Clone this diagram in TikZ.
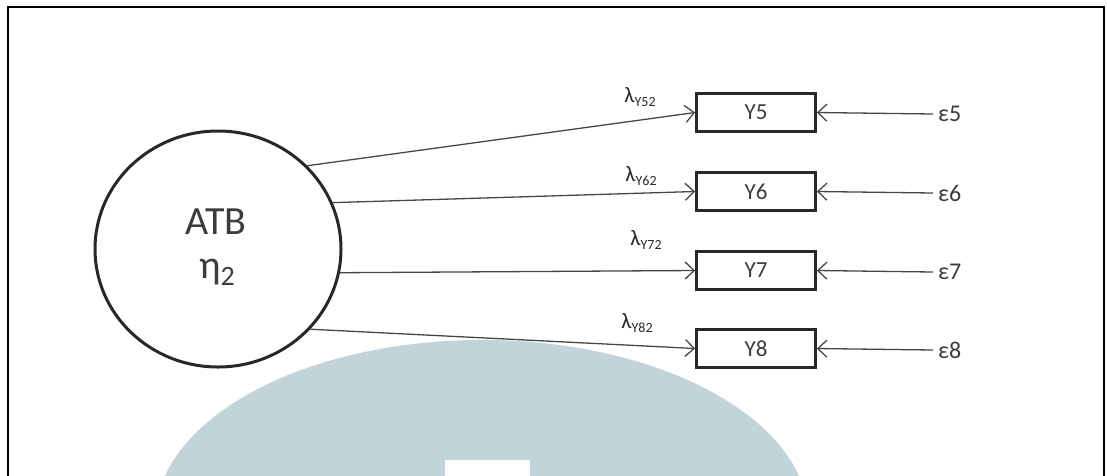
\documentclass[tikz,border=0pt]{standalone}
\usepackage{fontspec}
\setmainfont{Carlito}
\usetikzlibrary{arrows.meta,shapes.geometric}

\definecolor{ink}{RGB}{40,40,40}
\definecolor{txt}{RGB}{60,60,60}
\definecolor{wire}{RGB}{70,70,70}
\definecolor{emblemblue}{RGB}{194,211,218}

\tikzset{
  latent/.style={ellipse, draw=ink, line width=3pt, minimum width=246pt,
    minimum height=236pt, inner sep=0pt},
  indicator/.style={rectangle, draw=ink, line width=2.8pt, minimum width=119pt,
    minimum height=38pt, inner sep=0pt, text=txt,
    font=\fontsize{23}{27}\selectfont},
  errlabel/.style={anchor=west, inner xsep=5pt, inner ysep=0pt, text=txt,
    font=\fontsize{24}{28}\selectfont},
  loadlabel/.style={inner sep=0pt, text=ink, font=\fontsize{22}{26}\selectfont},
  link/.style={draw=wire, line width=1.3pt,
    -{Straight Barb[length=9pt,width=17pt,line width=1.3pt]}},
}

% subscript used in the loading labels
\newcommand{\loadsub}[1]{\raisebox{-4pt}{\fontsize{14}{16}\selectfont #1}}

\begin{document}
\begin{tikzpicture}[x=1pt,y=-1pt]
  \useasboundingbox (0,0) rectangle (1107,475);

  % pale emblem in the background
  \begin{scope}
    \clip (0,0) rectangle (1107,475);
    \fill[emblemblue] (482,520) ellipse [x radius=327, y radius=180];
    \fill[white] (445,460) rectangle (530,476);
  \end{scope}

  % frame, open at the bottom
  \draw[black, line width=2pt] (8,476) -- (8,7) -- (1104,7) -- (1104,476);

  % latent variable
  \node[latent] (atb) at (218,249) {};
  \node[text=txt, font=\fontsize{40}{46}\selectfont] (atbname) at (216,222) {ATB};
  \node[text=txt, font=\fontsize{40}{46}\selectfont] (eta) at (217,272)
    {η\raisebox{-7pt}{\fontsize{28}{32}\selectfont 2}};

  % indicators
  \node[indicator] (y5) at (756,112.5) {Y5};
  \node[indicator] (y6) at (756,191.5) {Y6};
  \node[indicator] (y7) at (756,270.5) {Y7};
  \node[indicator] (y8) at (756,348.5) {Y8};

  % measurement errors
  \node[errlabel] (e5) at (933,114) {ε5};
  \node[errlabel] (e6) at (933,193) {ε6};
  \node[errlabel] (e7) at (933,272) {ε7};
  \node[errlabel] (e8) at (933,350) {ε8};

  % loadings
  \draw[link] (atb.43)  -- (y5.west);
  \draw[link] (atb.22)  -- (y6.west);
  \draw[link] (atb.-11) -- (y7.west);
  \draw[link] (atb.-41) -- (y8.west);

  \node[loadlabel] (l5) at (640,97)  {λ\loadsub{Y52}};
  \node[loadlabel] (l6) at (641,176) {λ\loadsub{Y62}};
  \node[loadlabel] (l7) at (646,240) {λ\loadsub{Y72}};
  \node[loadlabel] (l8) at (637,323) {λ\loadsub{Y82}};

  % error arrows
  \draw[link] (e5.west) -- (y5.east);
  \draw[link] (e6.west) -- (y6.east);
  \draw[link] (e7.west) -- (y7.east);
  \draw[link] (e8.west) -- (y8.east);
\end{tikzpicture}
\end{document}
